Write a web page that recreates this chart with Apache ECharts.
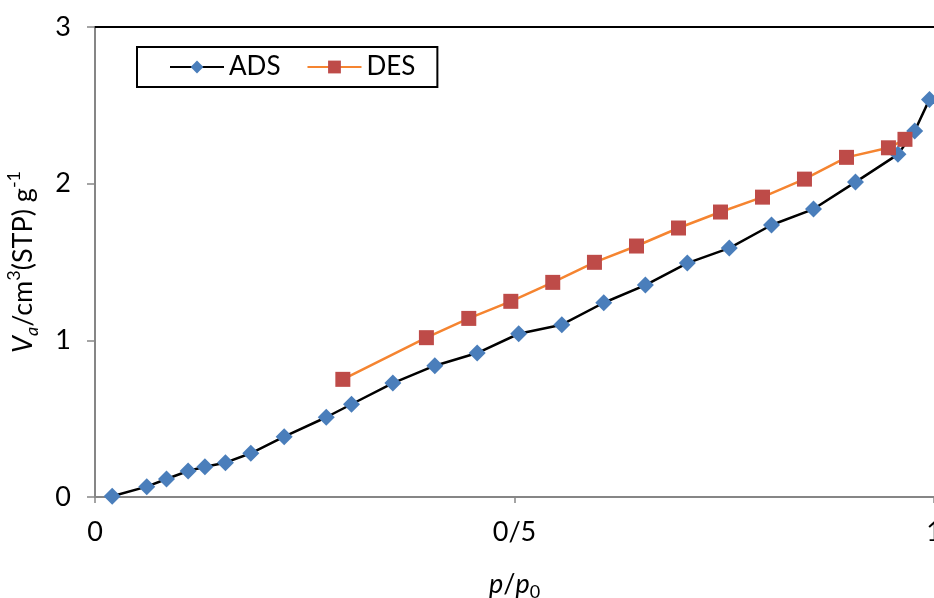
<!DOCTYPE html>
<html><head><meta charset="utf-8">
<script src="https://cdn.jsdelivr.net/npm/echarts@6/dist/echarts.min.js"></script>
<style>html,body{margin:0;padding:0;background:#fff}#c{width:934px;height:598px}</style>
</head><body><div id="c"></div>
<script>
const adsX = [0.0205,0.0617,0.0852,0.111,0.131,0.1555,0.1857,0.2255,0.2756,0.3057,0.355,0.405,0.4555,0.505,0.5564,0.6064,0.656,0.706,0.756,0.8063,0.8564,0.9064,0.957,0.977,0.9946];
const adsY = [0.005,0.066,0.115,0.166,0.193,0.219,0.279,0.385,0.509,0.592,0.727,0.838,0.919,1.042,1.100,1.240,1.353,1.493,1.589,1.736,1.838,2.010,2.187,2.336,2.538];
const desX = [0.2954,0.395,0.4455,0.4956,0.5456,0.5953,0.6454,0.6955,0.7455,0.7956,0.8456,0.8957,0.9457,0.9654];
const desY = [0.751,1.017,1.140,1.249,1.370,1.498,1.602,1.717,1.819,1.914,2.029,2.168,2.229,2.283];
const xTicks = {0:'0',0.5:'0/5',1:'1'};
const yTicks = [0,1,2,3];

const FONT = 'Lato';
const chart = echarts.init(document.getElementById('c'));
const zip = (a,b)=>a.map((v,i)=>[v,b[i]]);
chart.setOption({
  animation:false,
  textStyle:{fontFamily:FONT},
  grid:{left:95,right:0,top:27,bottom:101,containLabel:false,outerBoundsMode:'none'},
  legend:{
    left:137, top:47,
    data:['ADS','DES'],
    borderColor:'#000', borderWidth:2, padding:[7,22,7,32],
    itemWidth:54, itemHeight:16, itemGap:26,
    textStyle:{fontSize:26,color:'#000',fontFamily:FONT}
  },
  xAxis:[{
    type:'value', min:0, max:1, interval:0.5,
    axisLine:{lineStyle:{color:'#868686',width:2}},
    axisTick:{show:true,length:6,inside:false,lineStyle:{color:'#868686',width:1.5}},
    splitLine:{show:false},
    axisLabel:{fontSize:27,color:'#000',margin:22,fontFamily:FONT,
      formatter:v=>xTicks[v]!==undefined?xTicks[v]:''},
    name:'{i|p}{n|/}{i|p}{s|0}',
    nameLocation:'middle', nameGap:70,
    nameTextStyle:{rich:{
      i:{fontSize:27,fontStyle:'italic',fontFamily:FONT,color:'#000',lineHeight:34,verticalAlign:'middle'},
      n:{fontSize:27,fontFamily:FONT,color:'#000',lineHeight:34},
      s:{fontSize:18,fontFamily:FONT,color:'#000',lineHeight:18,verticalAlign:'bottom'}
    }}
  },{
    type:'value', position:'top', min:0, max:1,
    axisLine:{show:true,lineStyle:{color:'#000',width:2}},
    axisTick:{show:false}, axisLabel:{show:false}, splitLine:{show:false}
  }],
  yAxis:{
    type:'value', min:0, max:3, interval:1,
    axisLine:{show:true,lineStyle:{color:'#868686',width:2}},
    axisTick:{show:true,length:8,lineStyle:{color:'#868686',width:1.5}},
    splitLine:{show:false},
    axisLabel:{fontSize:27,color:'#000',margin:24,fontFamily:FONT,
      formatter:v=>yTicks.includes(v)?String(v):''},
    name:'{i|V}{si|a}{n|/cm}{sp|3}{n|(STP) g}{sp|-1}',
    nameLocation:'middle', nameGap:54,
    nameTextStyle:{rich:{
      i:{fontSize:27,fontStyle:'italic',fontFamily:FONT,color:'#000',lineHeight:36},
      n:{fontSize:27,fontFamily:FONT,color:'#000',lineHeight:36},
      si:{fontSize:18,fontStyle:'italic',fontFamily:FONT,color:'#000',lineHeight:18,verticalAlign:'bottom'},
      sp:{fontSize:18,fontFamily:FONT,color:'#000',lineHeight:18,verticalAlign:'top'}
    }}
  },
  series:[
    {name:'ADS', type:'line', data:zip(adsX,adsY), symbol:'diamond', symbolSize:17,
     lineStyle:{color:'#000',width:2.5}, itemStyle:{color:'#4A7EBB'}, z:2},
    {name:'DES', type:'line', data:zip(desX,desY), symbol:'rect', symbolSize:15,
     lineStyle:{color:'#F58430',width:2.5}, itemStyle:{color:'#BE4B48'}, z:3}
  ]
});
</script></body></html>
